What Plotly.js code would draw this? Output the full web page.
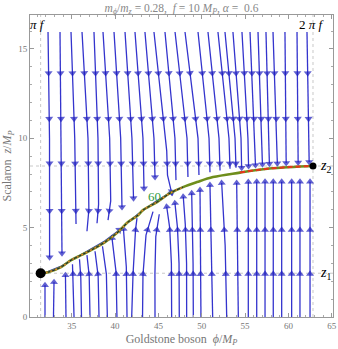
<!DOCTYPE html>
<html><head><meta charset="utf-8">
<script src="https://cdn.plot.ly/plotly-3.0.1.min.js"></script>
<style>html,body{margin:0;padding:0;background:#fff;} #chart{width:338px;height:349px;}</style>
</head><body><div id="chart"></div>
<script>
// ---- parameters ----
const f = 10;
const piF = Math.PI * f;
const twoPiF = 2 * Math.PI * f;
const z1 = 2.45;
const z2 = 8.45;

// ---- trajectory ----
const trajX = [31.42, 32.27, 33.77, 34.92, 36.07, 37.23, 38.84, 40.34, 41.49, 42.65, 43.22, 44.84, 46.34, 47.84, 49.45, 51.30, 54.41, 57.07, 59.38, 62.14, 62.83];
const trajY = [2.45, 2.51, 2.79, 3.18, 3.46, 3.74, 4.19, 4.75, 5.31, 5.70, 5.98, 6.43, 6.93, 7.27, 7.55, 7.83, 8.08, 8.27, 8.37, 8.44, 8.45];

// ---- streamlines flowing down (from top) ----
const downStreams = [
  [[32.27,15.95],[32.44,10],[32.45,3.35]],
  [[33.65,15.95],[33.80,10],[33.88,3.57]],
  [[34.92,15.95],[35.35,10],[35.50,5.2]],
  [[36.19,15.95],[36.88,10],[36.98,6.0],[36.76,4.8]],
  [[37.57,15.95],[38.03,10],[38.10,6.3],[37.92,5.25]],
  [[38.61,15.95],[39.38,10],[39.50,6.5],[39.19,5.42]],
  [[39.88,15.95],[40.65,10],[40.80,6.15]],
  [[41.15,15.95],[41.95,10],[42.13,6.65]],
  [[42.30,15.95],[43.22,10],[43.34,7.2]],
  [[43.45,15.95],[44.49,10],[44.61,7.83]],
  [[44.49,15.95],[45.80,10],[45.96,9.3],[46.05,7.94],[46.53,6.95]],
  [[45.76,15.95],[46.91,10],[47.03,7.66]],
  [[46.92,15.95],[48.30,10],[48.41,7.83]],
  [[48.07,15.95],[49.57,10],[49.68,7.95]],
  [[49.57,15.95],[50.84,10],[50.95,8.1]],
  [[50.72,15.95],[51.99,10],[52.11,8.2]],
  [[51.87,15.95],[53.14,10],[53.26,8.3]],
  [[52.68,15.95],[53.84,10],[53.95,8.35]],
  [[53.60,15.95],[54.53,10],[54.60,8.35]],
  [[54.64,15.95],[55.33,10],[55.40,8.45]],
  [[55.57,15.95],[56.14,10],[56.20,8.5]],
  [[56.49,15.95],[56.95,10],[57.00,8.55]],
  [[57.41,15.95],[57.76,10],[57.80,8.58]],
  [[58.22,15.95],[58.68,10],[58.72,8.6]],
  [[59.60,15.95],[59.72,10],[59.74,8.62]],
  [[60.99,15.95],[61.10,10],[61.12,8.65]],
  [[62.14,15.95],[62.37,10],[62.39,8.67]]
];
const downEndArrow = [1,1,0,0,0,0,1,1,1,1,1,0,0,0,0,0,0,0,1,1,1,1,1,1,1,1,1];
const downLevels = [13.65, 11.1, 8.6, 5.95, 3.4];

// ---- streamlines flowing up (from bottom) ----
const upStreams = [
  [[31.92,0],[31.92,1.78]],
  [[32.90,0],[32.96,1.95]],
  [[34.34,0],[34.28,2.34]],
  [[35.27,0],[35.20,2.0],[35.09,2.95]],
  [[36.13,0],[36.05,2.2],[35.90,3.23]],
  [[37.11,0],[37.02,2.3],[36.76,3.46]],
  [[38.15,0],[38.05,2.3],[37.69,3.68]],
  [[39.11,0],[39.00,2.4],[38.55,3.96]],
  [[40.22,0],[40.12,2.5],[39.65,4.41]],
  [[41.38,0],[41.30,2.8],[40.97,4.92]],
  [[41.92,0],[42.07,2.34],[42.36,4.86],[42.53,5.53]],
  [[43.17,0],[43.22,2.34],[43.57,4.58],[44.38,5.9]],
  [[44.61,0],[44.60,2.4],[44.70,4.5],[45.10,5.75]],
  [[46.53,0],[46.50,3.0],[46.30,5.0],[45.96,6.17]],
  [[47.41,0],[47.38,3.0],[47.20,5.0],[46.91,6.37]],
  [[48.26,0],[48.25,3.0],[48.10,5.2],[47.87,6.73]],
  [[49.03,0],[49.00,3.0],[48.84,6.92]],
  [[49.91,0],[49.80,7.1]],
  [[51.26,0],[51.10,4.0],[50.95,7.38]],
  [[52.88,0],[52.70,4.0],[52.30,7.5]],
  [[54.22,0],[54.03,7.5]],
  [[55.37,0],[55.37,7.55]],
  [[56.34,0],[56.34,7.57]],
  [[57.30,0],[57.30,7.57]],
  [[58.25,0],[58.25,7.57]],
  [[59.22,0],[59.22,7.57]],
  [[60.37,0],[60.37,7.57]],
  [[61.33,0],[61.33,7.57]],
  [[62.49,0],[62.49,7.57]],
  [[32.30,2.55],[33.80,2.85],[36.10,3.50],[38.80,4.25],[40.30,4.80],[42.60,5.75],[44.80,6.50],[46.50,7.00]]
];
const upEndArrow = [1,1,1,0,0,0,0,0,1,1,0,0,0,1,1,1,1,1,1,1,1,1,1,1,1,1,1,1,1,1];
const upLevels = [2.4, 4.87];

// label data
const efoldLabel = {text: '60', x: 44.6, y: 6.75};

function buildLines(streams){
  const xs=[], ys=[];
  streams.forEach(s=>{ s.forEach(p=>{xs.push(p[0]); ys.push(p[1]);}); xs.push(null); ys.push(null); });
  return {xs, ys};
}
function buildArrows(streams, ends, levels){
  const xs=[], ys=[], sz=[];
  streams.forEach((s,i)=>{
    const last=s[s.length-1];
    const hasEnd = ends[i]===1;
    for(let k=0;k<s.length-1;k++){
      const a=s[k], b=s[k+1];
      levels.forEach(L=>{
        if((a[1]-L)*(b[1]-L) < 0){
          if(hasEnd && Math.abs(L-last[1])<0.45) return;
          const t=(L-a[1])/(b[1]-a[1]);
          xs.push(a[0], a[0]+t*(b[0]-a[0])); ys.push(a[1], L); sz.push(0, 7);
        }
      });
    }
    if(hasEnd){ const p=s[s.length-2]; xs.push(p[0], last[0]); ys.push(p[1], last[1]); sz.push(0, 7); }
  });
  return {xs, ys, sz};
}

const lineColor = 'rgb(52,52,205)';
const arrowColor = 'rgb(28,28,190)';
const dl = buildLines(downStreams), ul = buildLines(upStreams);
const da = buildArrows(downStreams, downEndArrow, downLevels);
const ua = buildArrows(upStreams, upEndArrow, upLevels);

function arrowTrace(a){
  return {x:a.xs, y:a.ys, type:'scatter', mode:'markers', hoverinfo:'skip',
    marker:{symbol:'triangle-up', size:a.sz, color:arrowColor, angleref:'previous', line:{width:0}}};
}

const leftIdx = trajX.map((v,i)=>i).filter(i=>i<=13);
const rightIdx = trajX.map((v,i)=>i).filter(i=>i>=16);

const traces = [
  {x:dl.xs, y:dl.ys, type:'scatter', mode:'lines', line:{color:lineColor, width:1.3}, connectgaps:false, hoverinfo:'skip'},
  {x:ul.xs, y:ul.ys, type:'scatter', mode:'lines', line:{color:lineColor, width:1.3}, connectgaps:false, hoverinfo:'skip'},
  arrowTrace(da), arrowTrace(ua),
  {x:trajX, y:trajY, type:'scatter', mode:'lines', line:{color:'#6f8e1c', width:2.6, shape:'spline'}, hoverinfo:'skip'},
  {x:leftIdx.map(i=>trajX[i]), y:leftIdx.map(i=>trajY[i]), type:'scatter', mode:'lines', line:{color:'#1a1a40', width:1, shape:'spline'}, hoverinfo:'skip'},
  {x:leftIdx.map(i=>trajX[i]), y:leftIdx.map(i=>trajY[i]), type:'scatter', mode:'lines', line:{color:'#e08a2a', width:1.4, dash:'2px,3px', shape:'spline'}, hoverinfo:'skip'},
  {x:rightIdx.map(i=>trajX[i]), y:rightIdx.map(i=>trajY[i]), type:'scatter', mode:'lines', line:{color:'#e8341c', width:2, dash:'5px,3px', shape:'spline'}, hoverinfo:'skip'},
  {x:[piF], y:[z1], type:'scatter', mode:'markers', marker:{color:'#000', size:10}, hoverinfo:'skip'},
  {x:[twoPiF], y:[z2], type:'scatter', mode:'markers', marker:{color:'#000', size:7}, hoverinfo:'skip'}
];

const serif = 'Liberation Serif, Times New Roman, serif';
const dash = {color:'#c8c8c8', width:1, dash:'3px,3px'};
const layout = {
  width:338, height:349, margin:{l:30, r:5, t:15, b:32},
  paper_bgcolor:'#fff', plot_bgcolor:'#fff', showlegend:false,
  title:{text:'<i>m</i><sub><i>ϕ</i></sub>/<i>m</i><sub><i>z</i></sub> = 0.28,  <i>f</i> = 10 <i>M</i><sub><i>P</i></sub>, <i>α</i> =  0.6',
    font:{family:serif, size:11.5, color:'#888'}, xref:'paper', x:0.5, xanchor:'center', y:0.978, yanchor:'middle'},
  xaxis:{range:[30.19, 65.14], tick0:0, dtick:5, ticks:'inside', ticklen:4, tickcolor:'#999', mirror:'allticks',
    showline:true, linecolor:'#999', linewidth:1, showgrid:false, zeroline:false,
    tickfont:{family:serif, size:9, color:'#777'},
    minor:{dtick:1, tick0:0, ticks:'inside', ticklen:2, tickcolor:'#aaa', showgrid:false},
    title:{text:'Goldstone boson  <i>ϕ</i>/<i>M</i><sub><i>P</i></sub>', font:{family:serif, size:12, color:'#777'}, standoff:4}},
  yaxis:{range:[0, 16.9], tick0:0, dtick:5, ticks:'inside', ticklen:4, tickcolor:'#999', mirror:'allticks',
    showline:true, linecolor:'#999', linewidth:1, showgrid:false, zeroline:false,
    tickfont:{family:serif, size:9, color:'#777'},
    minor:{dtick:1, tick0:0, ticks:'inside', ticklen:2, tickcolor:'#aaa', showgrid:false},
    title:{text:'Scalaron  <i>z</i>/<i>M</i><sub><i>P</i></sub>', font:{family:serif, size:12, color:'#777'}, standoff:4}},
  shapes:[
    {type:'line', xref:'x', yref:'paper', x0:piF, x1:piF, y0:0, y1:1, line:dash, layer:'below'},
    {type:'line', xref:'x', yref:'paper', x0:twoPiF, x1:twoPiF, y0:0, y1:1, line:dash, layer:'below'},
    {type:'line', xref:'paper', yref:'y', x0:0, x1:1, y0:z1, y1:z1, line:dash, layer:'below'},
    {type:'line', xref:'paper', yref:'y', x0:0, x1:1, y0:z2, y1:z2, line:dash, layer:'below'}
  ],
  annotations:[
    {text:'<i>π f</i>', x:piF, xref:'x', y:1, yref:'paper', xanchor:'center', yanchor:'top', xshift:-3, yshift:0, showarrow:false, font:{family:serif, size:13, color:'#000'}},
    {text:'2 <i>π f</i>', x:twoPiF, xref:'x', y:1, yref:'paper', xanchor:'center', yanchor:'top', xshift:-1, yshift:0, showarrow:false, font:{family:serif, size:13, color:'#000'}},
    {text:'<i>z</i><sub>2</sub>', x:twoPiF, y:z2, xref:'x', yref:'y', xanchor:'left', yanchor:'middle', xshift:5, showarrow:false, font:{family:serif, size:14, color:'#000'}},
    {text:'<i>z</i><sub>1</sub>', x:twoPiF, y:z1, xref:'x', yref:'y', xanchor:'left', yanchor:'middle', xshift:5, showarrow:false, font:{family:serif, size:14, color:'#000'}},
    {text:efoldLabel.text, x:efoldLabel.x, y:efoldLabel.y, xref:'x', yref:'y', xanchor:'center', yanchor:'middle', showarrow:false, font:{family:serif, size:13, color:'#2e9a3e'}}
  ]
};
Plotly.newPlot('chart', traces, layout, {displayModeBar:false, staticPlot:true});
</script></body></html>
